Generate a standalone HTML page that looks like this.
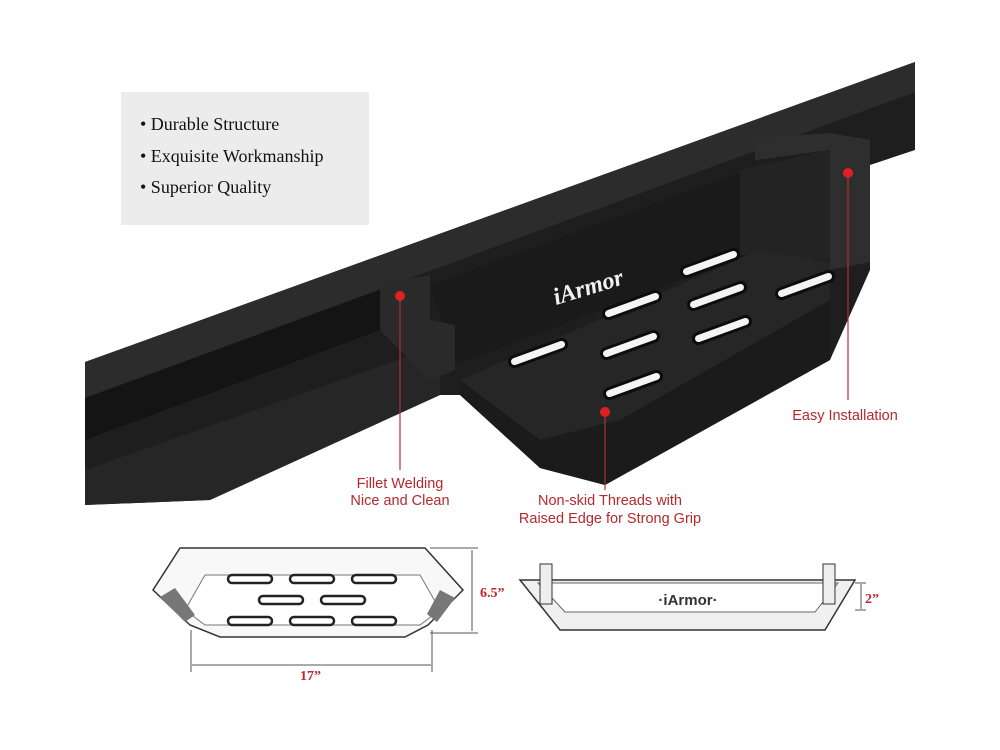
<!DOCTYPE html>
<html><head><meta charset="utf-8"><style>
html,body{margin:0;padding:0;background:#fff;}
svg{display:block}
</style></head><body>
<svg width="1000" height="750" viewBox="0 0 1000 750" xmlns="http://www.w3.org/2000/svg" font-family="Liberation Sans, sans-serif">
<rect width="1000" height="750" fill="#fff"/>
<!-- rail -->
<polygon points="85,362 915,62 915,150 870,165 870,270 830,360 605,485 540,468 460,395 440,395 210,500 85,505" fill="#1e1e1e"/>
<polygon points="85,362 915,62 915,92 85,398" fill="#2c2c2c"/>
<polygon points="85,398 380,290 380,330 85,440" fill="#141414"/>
<polygon points="85,470 440,345 440,395 210,500 85,505" fill="#262626"/>
<!-- step back wall -->
<polygon points="430,285 760,165 760,250 455,365" fill="#1a1a1a"/>
<!-- bracket right -->
<polygon points="755,138 830,133 870,140 870,262 830,270 830,150 755,160" fill="#2e2e2e"/>
<polygon points="740,170 830,150 830,260 740,255" fill="#232323"/>
<!-- tray floor -->
<polygon points="460,380 760,250 830,262 830,300 620,420 540,440" fill="#262626"/>
<polygon points="540,440 620,420 830,300 830,360 605,485 540,468 460,395 460,380" fill="#1b1b1b"/>
<!-- bracket left -->
<polygon points="380,283 430,275 430,320 455,325 455,370 430,380 380,330" fill="#2a2a2a"/>
<!-- slots -->
<g fill="#f4f4f4" stroke="#0c0c0c" stroke-width="3">
<rect x="-30" y="-5" width="60" height="10" rx="5" transform="translate(710,263) rotate(-20)"/>
<rect x="-30" y="-5" width="60" height="10" rx="5" transform="translate(632,305) rotate(-20)"/>
<rect x="-30" y="-5" width="60" height="10" rx="5" transform="translate(717,296) rotate(-20)"/>
<rect x="-30" y="-5" width="60" height="10" rx="5" transform="translate(805,285) rotate(-20)"/>
<rect x="-30" y="-5" width="60" height="10" rx="5" transform="translate(538,353) rotate(-20)"/>
<rect x="-30" y="-5" width="60" height="10" rx="5" transform="translate(630,345) rotate(-20)"/>
<rect x="-30" y="-5" width="60" height="10" rx="5" transform="translate(722,330) rotate(-20)"/>
<rect x="-30" y="-5" width="60" height="10" rx="5" transform="translate(633,385) rotate(-20)"/>
</g>
<text x="0" y="0" transform="translate(556,305) rotate(-17)" fill="#f2f2f2" font-family="Liberation Serif, serif" font-style="italic" font-size="24" font-weight="bold">iArmor</text>
<!-- info box -->
<rect x="121" y="92" width="248" height="133" fill="#ececec"/>
<g font-family="Liberation Serif, serif" font-size="18" fill="#111">
<text x="140" y="130">• Durable Structure</text>
<text x="140" y="162">• Exquisite Workmanship</text>
<text x="140" y="193">• Superior Quality</text>
</g>
<!-- callouts -->
<g stroke="#b03036" stroke-width="1.2">
<line x1="848" y1="173" x2="848" y2="400"/>
<line x1="400" y1="296" x2="400" y2="470"/>
<line x1="605" y1="412" x2="605" y2="490"/>
</g>
<g fill="#e02020"><circle cx="848" cy="173" r="5"/><circle cx="400" cy="296" r="5"/><circle cx="605" cy="412" r="5"/></g>
<g fill="#b5282e" font-size="14.5" text-anchor="middle">
<text x="845" y="420">Easy Installation</text>
<text x="400" y="488">Fillet Welding</text>
<text x="400" y="505">Nice and Clean</text>
<text x="610" y="505">Non-skid Threads with</text>
<text x="610" y="523">Raised Edge for Strong Grip</text>
</g>
<!-- left drawing -->
<polygon points="180,548 425,548 463,590 428,625 405,637 220,637 190,625 153,590" fill="#f8f8f8" stroke="#333" stroke-width="1.5"/>
<polygon points="205,575 420,575 440,610 420,625 205,625 185,610" fill="#fff" stroke="#777" stroke-width="1"/>
<polygon points="160,597 175,588 195,615 185,622" fill="#777"/>
<polygon points="440,590 455,598 437,622 427,614" fill="#777"/>
<g fill="#fff" stroke="#222" stroke-width="2.5">
<rect x="228" y="575" width="44" height="8" rx="4"/><rect x="290" y="575" width="44" height="8" rx="4"/><rect x="352" y="575" width="44" height="8" rx="4"/>
<rect x="259" y="596" width="44" height="8" rx="4"/><rect x="321" y="596" width="44" height="8" rx="4"/>
<rect x="228" y="617" width="44" height="8" rx="4"/><rect x="290" y="617" width="44" height="8" rx="4"/><rect x="352" y="617" width="44" height="8" rx="4"/>
</g>
<g stroke="#555" stroke-width="1" fill="none">
<line x1="430" y1="548" x2="478" y2="548"/><line x1="430" y1="633" x2="478" y2="633"/>
<line x1="472" y1="550" x2="472" y2="631"/>
<line x1="191" y1="630" x2="191" y2="672"/><line x1="432" y1="630" x2="432" y2="672"/>
<line x1="192" y1="665" x2="431" y2="665"/>
</g>
<g font-family="Liberation Serif, serif" font-weight="bold" fill="#c0262c" font-size="14">
<text x="480" y="597">6.5”</text>
<text x="300" y="680">17”</text>
<text x="865" y="603">2”</text>
</g>
<!-- right drawing -->
<polygon points="520,580 855,580 825,630 560,630" fill="#f0f0f0" stroke="#333" stroke-width="1.5"/>
<polygon points="538,583 838,583 815,612 565,612" fill="#fff" stroke="#666" stroke-width="1"/>
<rect x="540" y="564" width="12" height="40" fill="#eee" stroke="#333"/>
<rect x="823" y="564" width="12" height="40" fill="#eee" stroke="#333"/>
<text x="688" y="605" text-anchor="middle" font-size="15" font-weight="bold" fill="#333">·iArmor·</text>
<g stroke="#555" stroke-width="1"><line x1="855" y1="583" x2="866" y2="583"/><line x1="855" y1="610" x2="866" y2="610"/><line x1="861" y1="584" x2="861" y2="609"/></g>
</svg>
</body></html>
